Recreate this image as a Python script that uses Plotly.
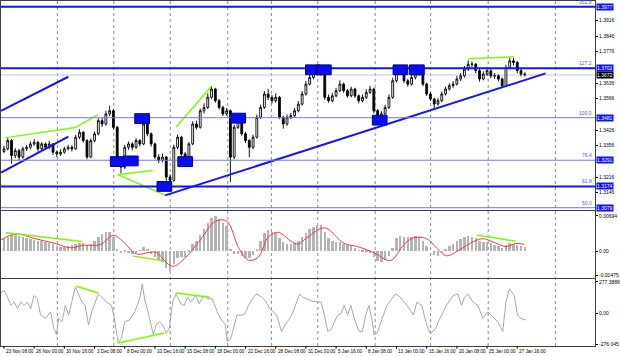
import plotly.graph_objects as go

# ---------------- data ----------------
# candles: every candle aggregates two H4 bars, x in H4-bar index units
first_open = 1.3330
close = [1.3342,1.3379,1.3312,1.3334,1.3305,1.3342,1.3349,1.3364,1.3371,1.3342,
         1.3364,1.3349,1.3364,1.3327,1.3319,1.3327,1.3342,1.3349,1.3342,1.3394,
         1.3416,1.3379,1.3305,1.3379,1.3409,1.3468,1.3453,1.3498,1.3512,1.3438,
         1.3290,1.3260,1.3349,1.3364,1.3349,1.3379,1.3364,1.3453,1.3409,1.3364,
         1.3305,1.3290,1.3305,1.3216,1.3201,1.3349,1.3394,1.3319,1.3305,1.3364,
         1.3453,1.3438,1.3512,1.3527,1.3572,1.3609,1.3557,1.3527,1.3498,1.3512,
         1.3305,1.3438,1.3483,1.3409,1.3379,1.3349,1.3394,1.3483,1.3527,1.3587,
         1.3572,1.3557,1.3572,1.3483,1.3453,1.3483,1.3490,1.3512,1.3542,1.3587,
         1.3631,1.3661,1.3683,1.3698,1.3676,1.3572,1.3557,1.3579,1.3602,1.3631,
         1.3602,1.3579,1.3609,1.3579,1.3557,1.3572,1.3594,1.3609,1.3512,1.3483,
         1.3498,1.3527,1.3572,1.3646,1.3683,1.3691,1.3646,1.3631,1.3661,1.3676,
         1.3683,1.3631,1.3587,1.3564,1.3542,1.3557,1.3587,1.3609,1.3624,1.3631,
         1.3654,1.3668,1.3698,1.3720,1.3720,1.3691,1.3654,1.3676,1.3691,1.3668,
         1.3668,1.3654,1.3624,1.3705,1.3735,1.3728,1.3691,1.3676,1.3673]
high = [1.3356,1.3394,1.3385,1.3345,1.3342,1.3352,1.3360,1.3375,1.3386,1.3378,
        1.3372,1.3370,1.3378,1.3368,1.3335,1.3340,1.3352,1.3360,1.3358,1.3405,
        1.3430,1.3420,1.3385,1.3388,1.3420,1.3478,1.3480,1.3512,1.3535,1.3520,
        1.3445,1.3300,1.3360,1.3375,1.3372,1.3390,1.3386,1.3475,1.3460,1.3415,
        1.3370,1.3318,1.3320,1.3310,1.3228,1.3360,1.3405,1.3400,1.3328,1.3372,
        1.3465,1.3468,1.3522,1.3545,1.3590,1.3620,1.3615,1.3565,1.3535,1.3525,
        1.3518,1.3450,1.3500,1.3490,1.3418,1.3385,1.3405,1.3495,1.3540,1.3600,
        1.3610,1.3582,1.3590,1.3578,1.3490,1.3495,1.3502,1.3525,1.3555,1.3600,
        1.3645,1.3675,1.3698,1.3712,1.3705,1.3680,1.3585,1.3592,1.3615,1.3648,
        1.3638,1.3610,1.3620,1.3615,1.3585,1.3585,1.3608,1.3624,1.3615,1.3520,
        1.3510,1.3538,1.3585,1.3660,1.3698,1.3705,1.3698,1.3655,1.3675,1.3690,
        1.3698,1.3690,1.3638,1.3595,1.3570,1.3568,1.3598,1.3620,1.3635,1.3645,
        1.3668,1.3680,1.3712,1.3738,1.3732,1.3725,1.3698,1.3688,1.3705,1.3698,
        1.3680,1.3675,1.3660,1.3718,1.3748,1.3748,1.3735,1.3700,1.3684]
low = [1.3322,1.3335,1.3275,1.3300,1.3290,1.3298,1.3333,1.3340,1.3355,1.3330,
       1.3335,1.3338,1.3340,1.3315,1.3305,1.3310,1.3320,1.3335,1.3330,1.3338,
       1.3385,1.3370,1.3295,1.3300,1.3372,1.3402,1.3440,1.3445,1.3488,1.3430,
       1.3275,1.3230,1.3252,1.3338,1.3335,1.3342,1.3352,1.3358,1.3398,1.3352,
       1.3295,1.3278,1.3282,1.3190,1.3172,1.3195,1.3340,1.3310,1.3295,1.3300,
       1.3358,1.3428,1.3432,1.3500,1.3520,1.3565,1.3548,1.3518,1.3488,1.3490,
       1.3193,1.3295,1.3430,1.3400,1.3368,1.3305,1.3340,1.3388,1.3475,1.3520,
       1.3560,1.3545,1.3548,1.3475,1.3432,1.3445,1.3475,1.3482,1.3505,1.3535,
       1.3580,1.3625,1.3652,1.3675,1.3668,1.3560,1.3548,1.3550,1.3572,1.3595,
       1.3592,1.3570,1.3572,1.3570,1.3545,1.3550,1.3565,1.3588,1.3500,1.3455,
       1.3470,1.3490,1.3520,1.3565,1.3638,1.3675,1.3635,1.3620,1.3625,1.3652,
       1.3668,1.3622,1.3578,1.3555,1.3520,1.3535,1.3550,1.3580,1.3602,1.3615,
       1.3625,1.3645,1.3660,1.3690,1.3705,1.3680,1.3642,1.3648,1.3668,1.3658,
       1.3655,1.3642,1.3613,1.3618,1.3698,1.3715,1.3680,1.3665,1.3665]

macd_hist = [0.00250,0.00280,0.00311,0.00323,0.00298,0.00262,0.00250,0.00238,0.00219,0.00201,
             0.00189,0.00177,0.00158,0.00128,0.00097,0.00079,0.00079,0.00091,0.00104,0.00140,
             0.00158,0.00152,0.00116,0.00140,0.00201,0.00280,0.00323,0.00359,0.00371,0.00280,
             0.00037,-0.00043,-0.00024,-0.00043,-0.00067,-0.00043,0.00006,0.00067,0.00018,-0.00055,
             -0.00128,-0.00189,-0.00225,-0.00329,-0.00390,-0.00268,-0.00146,-0.00116,-0.00116,-0.00024,
             0.00128,0.00201,0.00311,0.00432,0.00554,0.00646,0.00676,0.00627,0.00554,0.00493,
             0.00037,-0.00055,-0.00055,-0.00104,-0.00146,-0.00146,-0.00085,0.00037,0.00189,0.00341,
             0.00402,0.00371,0.00341,0.00250,0.00177,0.00140,0.00140,0.00158,0.00201,0.00280,
             0.00341,0.00426,0.00475,0.00499,0.00499,0.00365,0.00244,0.00183,0.00171,0.00171,
             0.00134,0.00110,0.00091,0.00049,0.00012,-0.00012,-0.00030,-0.00049,-0.00122,-0.00195,
             -0.00213,-0.00183,-0.00110,0.00061,0.00244,0.00292,0.00274,0.00274,0.00274,0.00292,
             0.00274,0.00183,0.00091,0.00000,-0.00073,-0.00110,-0.00049,0.00030,0.00091,0.00134,
             0.00183,0.00231,0.00274,0.00292,0.00274,0.00244,0.00195,0.00171,0.00171,0.00152,
             0.00122,0.00091,0.00061,0.00110,0.00152,0.00134,0.00110,0.00085,0.00073]

signal_x = [-1.6,6.3,15.9,26.4,35.2,42.2,50.9,57.9,63.1,70.1,
            77.1,80.6,89.4,96.4,103.4,112.1,118.2,124.3,129.6,134.8,
            140.1,145.3,152.3,155.8,161.1,169.8,180.3,187.3,196.1,204.8,
            211.8,217.0,224.0,229.3,234.5,241.5,248.5,253.8,259.0,266.0,271.2,275.6]
signal_y = [0.00219,0.00341,0.00250,0.00158,0.00067,0.00116,0.00128,0.00311,0.00189,-0.00055,
            -0.00024,-0.00024,-0.00298,-0.00116,0.00189,0.00585,0.00585,0.00067,-0.00177,-0.00116,
            0.00280,0.00371,0.00189,0.00140,0.00280,0.00457,0.00152,0.00091,-0.00030,-0.00183,
            0.00122,0.00262,0.00244,0.00061,-0.00091,0.00030,0.00183,0.00244,0.00183,0.00091,0.00152,0.00134]

cci_x = [-1.6,0.2,1.9,3.7,5.4,7.2,8.9,10.7,12.4,14.2,15.9,17.7,19.4,22.0,24.7,26.4,27.8,29.0,30.8,32.5,
         34.3,36.0,37.8,39.5,41.3,43.0,44.8,46.5,48.3,50.0,51.8,54.4,57.0,58.8,60.5,62.3,64.0,66.6,69.3,71.9,
         73.3,74.5,76.3,78.0,79.2,80.6,82.4,84.1,85.9,87.6,89.4,91.1,93.7,95.5,97.2,99.0,101.6,103.4,106.0,107.7,
         110.4,113.0,114.7,117.4,118.2,120.0,121.7,123.5,126.1,127.8,129.6,132.2,133.9,136.6,138.3,140.9,144.5,147.1,148.8,151.5,
         153.2,154.9,156.7,158.4,161.1,163.7,166.3,168.1,169.8,171.6,173.3,175.1,176.8,178.6,180.3,182.1,183.8,185.6,188.2,189.9,
         191.7,193.4,195.2,196.1,197.8,200.4,203.0,207.4,210.0,213.5,217.0,218.8,221.4,224.0,225.8,228.4,231.0,234.5,238.0,240.6,
         242.4,244.1,245.9,248.5,251.1,253.8,256.4,259.0,261.6,264.3,266.0,267.8,270.4,272.1,273.9,276.5]
cci_y = [185,199,141,69,98,40,98,69,98,40,156,127,-17,-46,12,-133,-191,-46,-75,69,
         -17,98,228,170,98,69,-104,12,98,170,141,98,69,-75,-263,-219,-75,-61,12,127,
         257,127,12,-104,-191,-104,-75,-104,-176,-133,98,170,84,69,141,98,156,84,156,127,
         127,12,-46,-104,-248,-234,-133,-17,-17,-3,69,141,170,141,113,40,-17,-162,-104,-46,
         12,98,170,141,120,104,98,98,-17,-162,-147,-75,-17,-3,69,-17,69,-46,-162,-162,
         -17,69,-75,-191,-176,-46,69,170,141,69,-17,98,69,-104,-176,-147,-46,69,156,170,
         69,141,170,98,69,-46,12,-32,-75,-162,98,214,156,-17,-46,-61]

# Fibonacci levels
fib_ratio = ["161.8", "127.2", "100.0", "76.4", "61.8", "50.0"]
fib_price = [1.3977, 1.3702, 1.3481, 1.3291, 1.3174, 1.3079]
fib_bold = [True, True, False, False, True, False]
last_price = 1.3672

price_ticks = [1.3916, 1.3846, 1.3776, 1.3636, 1.3566, 1.3426, 1.3356, 1.3216, 1.3146]
macd_ticks = [0.00694, 0.0, -0.00475]
macd_ticktext = ["0.00694", "0.00", "-0.00475"]
cci_ticks = [277.3888, 0.0, -276.045]
cci_ticktext = ["277.3888", "0.00", "-276.045"]

time_labels = ["23 Nov 08:00", "26 Nov 00:00", "30 Nov 16:00", "3 Dec 08:00", "8 Dec 00:00",
               "10 Dec 16:00", "15 Dec 08:00", "18 Dec 00:00", "22 Dec 16:00", "28 Dec 08:00",
               "31 Dec 00:00", "5 Jan 16:00", "8 Jan 08:00", "13 Jan 00:00", "15 Jan 16:00",
               "20 Jan 08:00", "25 Jan 00:00", "27 Jan 16:00"]
time_label_bars = [0, 16, 32, 48, 64, 80, 96, 112, 128, 144, 160, 176, 192, 208, 224, 240, 256, 272]
grid_bars = [28.3, 58.2, 88.1, 118.6, 141.7, 166.3, 196.7, 226.1, 256.6, 292.2]

# signal boxes (bar index, price)
box_bar = [73.2, 60.3, 67.2, 85.0, 96.0, 124.1, 163.7, 169.5, 199.1, 210.1, 218.8]
box_price = [1.3477, 1.3285, 1.3288, 1.3174, 1.3285, 1.3479, 1.3695, 1.3695, 1.3470, 1.3695, 1.3695]

# blue trend lines: (x0, y0, x1, y1)
trend_lines = [(-1.57, 1.3512, 34.1, 1.3664),
               (-1.57, 1.3236, 34.1, 1.3397),
               (85.4, 1.3134, 287.0, 1.3679)]
# green divergence lines
green_price_x = [[1.0, 37.8, 49.8], [60.3, 78.7], [60.3, 85.5], [91.3, 109.7], [246.1, 270.2]]
green_price_y = [[1.3392, 1.3437, 1.3495], [1.3227, 1.3245], [1.3227, 1.3134], [1.3441, 1.3619], [1.3744, 1.3753]]
green_macd_x = [[1.0, 41.3], [68.4, 84.1], [250.3, 271.2]]
green_macd_y = [[0.00359, 0.00189], [-0.00097, -0.00189], [0.00317, 0.00195]]
green_cci_x = [[38.3, 50.0], [60.5, 85.0], [91.1, 109.0]]
green_cci_y = [[237, 179], [-263, -176], [179, 141]]

# ---------------- figure ----------------
BAR_STEP = 2
candle_x = [BAR_STEP * k for k in range(len(close))]
opens = [first_open] + close[:-1]

XR = [-1.574, 313.2]
BLUE = "#1414ff"
LIGHT_BLUE = "#7474ff"
GREEN = "#7cfc00"
FONT = "Liberation Sans"
NARROW = "Liberation Sans Narrow, Liberation Sans"

fig = go.Figure()

fig.add_trace(go.Candlestick(
    x=candle_x, open=opens, high=high, low=low, close=close,
    increasing=dict(line=dict(color="black", width=0.9), fillcolor="white"),
    decreasing=dict(line=dict(color="black", width=0.9), fillcolor="black"),
    whiskerwidth=0, xaxis="x", yaxis="y", showlegend=False, hoverinfo="skip"))

for (x0, y0, x1, y1) in trend_lines:
    fig.add_trace(go.Scatter(x=[x0, x1], y=[y0, y1], mode="lines",
                             line=dict(color=BLUE, width=2), xaxis="x", yaxis="y",
                             showlegend=False, hoverinfo="skip"))
for gx, gy in zip(green_price_x, green_price_y):
    fig.add_trace(go.Scatter(x=gx, y=gy, mode="lines", line=dict(color=GREEN, width=1.5),
                             xaxis="x", yaxis="y", showlegend=False, hoverinfo="skip"))

# MACD
fig.add_trace(go.Bar(x=candle_x, y=macd_hist, width=1.3, marker=dict(color="#b4b4b4", line=dict(width=0)),
                     xaxis="x2", yaxis="y2", showlegend=False, hoverinfo="skip"))
fig.add_trace(go.Scatter(x=signal_x, y=signal_y, mode="lines", line=dict(color="#f03c3c", width=1, shape="spline"),
                         xaxis="x2", yaxis="y2", showlegend=False, hoverinfo="skip"))
for gx, gy in zip(green_macd_x, green_macd_y):
    fig.add_trace(go.Scatter(x=gx, y=gy, mode="lines", line=dict(color=GREEN, width=1.5),
                             xaxis="x2", yaxis="y2", showlegend=False, hoverinfo="skip"))

# CCI
fig.add_trace(go.Scatter(x=cci_x, y=cci_y, mode="lines", line=dict(color="#a8a8a8", width=1),
                         xaxis="x3", yaxis="y3", showlegend=False, hoverinfo="skip"))
for gx, gy in zip(green_cci_x, green_cci_y):
    fig.add_trace(go.Scatter(x=gx, y=gy, mode="lines", line=dict(color=GREEN, width=1.5),
                             xaxis="x3", yaxis="y3", showlegend=False, hoverinfo="skip"))

shapes = []
for gb in grid_bars:
    shapes.append(dict(type="line", xref="x", yref="paper", x0=gb, x1=gb, y0=0, y1=1,
                       line=dict(color="#8c8c8c", width=1, dash="dot"), layer="below"))
shapes.append(dict(type="line", xref="paper", yref="y", x0=0, x1=1, y0=last_price, y1=last_price,
                   line=dict(color="#c8c8c8", width=1), layer="below"))
for p, b in zip(fib_price, fib_bold):
    shapes.append(dict(type="line", xref="paper", yref="y", x0=0, x1=1, y0=p, y1=p,
                       line=dict(color=BLUE if b else LIGHT_BLUE, width=2 if b else 1)))
BOX_HW, BOX_HH = 3.9, 0.0022
for bx, bp in zip(box_bar, box_price):
    shapes.append(dict(type="rect", xref="x", yref="y", x0=bx - BOX_HW, x1=bx + BOX_HW,
                       y0=bp - BOX_HH, y1=bp + BOX_HH, fillcolor="#0c0cf0",
                       line=dict(color="#0000a0", width=1)))

annotations = []
for r, p in zip(fib_ratio, fib_price):
    annotations.append(dict(xref="paper", yref="y", x=0.998, y=p, text=r, showarrow=False,
                            xanchor="right", yanchor="bottom", font=dict(size=5, color="#5050ff", family=FONT)))
    annotations.append(dict(xref="paper", yref="y", x=1, y=p, text=f"{p:.4f}", showarrow=False,
                            xanchor="left", yanchor="middle", xshift=1, bgcolor="#1010ff", borderpad=0,
                            font=dict(size=5, color="white", family=FONT)))
annotations.append(dict(xref="paper", yref="y", x=1, y=last_price, text=f"{last_price:.4f}", showarrow=False,
                        xanchor="left", yanchor="middle", xshift=1, bgcolor="black", borderpad=0,
                        font=dict(size=5, color="white", family=FONT)))
for tl, tb in zip(time_labels, time_label_bars):
    annotations.append(dict(xref="x3", yref="paper", x=tb, y=0, text=tl, showarrow=False,
                            xanchor="left", yanchor="top", yshift=-1, xshift=0,
                            font=dict(size=4.6, color="black", family=NARROW)))
    shapes.append(dict(type="line", xref="x3", yref="paper", x0=tb, x1=tb, y0=0, y1=-0.008,
                       line=dict(color="black", width=1)))

axis_common = dict(showgrid=False, zeroline=False, showline=True, linecolor="#404040", linewidth=1, mirror=True)
yaxis_common = dict(side="right", ticks="outside", ticklen=2, tickcolor="black",
                    tickfont=dict(size=5, color="black", family=FONT), **axis_common)

fig.update_layout(
    width=620, height=357,
    margin=dict(l=0, r=20, t=0, b=11),
    paper_bgcolor="white", plot_bgcolor="white",
    showlegend=False, bargap=0,
    shapes=shapes, annotations=annotations,
    xaxis=dict(domain=[0, 1], range=XR, anchor="y", showticklabels=False, rangeslider=dict(visible=False), **axis_common),
    xaxis2=dict(domain=[0, 1], range=XR, anchor="y2", showticklabels=False, **axis_common),
    xaxis3=dict(domain=[0, 1], range=XR, anchor="y3", showticklabels=False, **axis_common),
    yaxis=dict(domain=[0.3931, 1], range=[1.3067, 1.40024], tickvals=price_ticks,
               ticktext=[f"{t:.4f}" for t in price_ticks], anchor="x", **yaxis_common),
    yaxis2=dict(domain=[0.1965, 0.3902], range=[-0.0053, 0.0078], tickvals=macd_ticks,
                ticktext=macd_ticktext, anchor="x2", **yaxis_common),
    yaxis3=dict(domain=[0, 0.1936], range=[-290, 300], tickvals=cci_ticks,
                ticktext=cci_ticktext, anchor="x3", **yaxis_common),
)

fig.write_html("out.html", config={"displayModeBar": False},
               post_script="document.body.style.margin='0';document.body.style.padding='0';")
